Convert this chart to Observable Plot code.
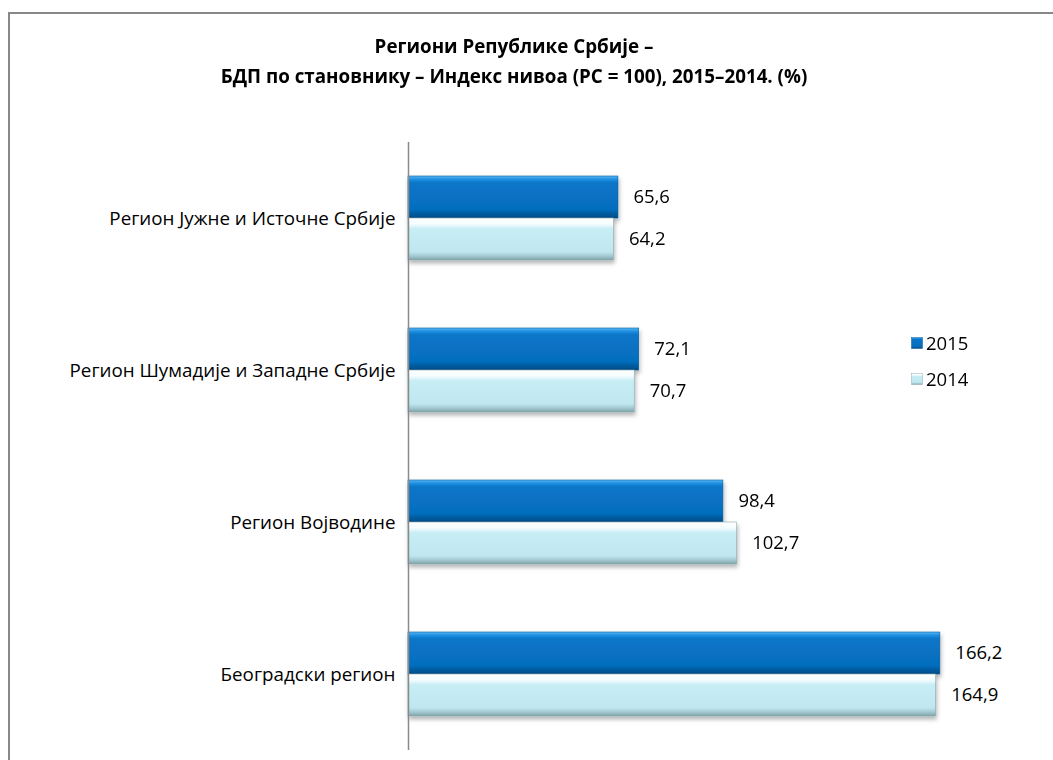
<!DOCTYPE html>
<html><head><meta charset="utf-8">
<script src="https://cdn.jsdelivr.net/npm/d3@7"></script>
<script src="https://cdn.jsdelivr.net/npm/@observablehq/plot@0.6"></script>
<style>
html,body{margin:0;padding:0;background:#fff;width:1053px;height:760px;overflow:hidden;font-family:"Open Sans", sans-serif;}
#wrap{position:relative;width:1053px;height:760px;}
#frame{position:absolute;left:8px;top:12px;width:1060px;height:760px;border-top:2px solid #888;border-left:2px solid #888;pointer-events:none;z-index:2}
#title{position:absolute;left:0;width:1028px;top:31px;text-align:center;font-weight:bold;font-size:18.8px;line-height:30px;color:#000;z-index:3}
#chart{position:absolute;left:0;top:0;z-index:1}
#legend{position:absolute;left:911px;top:330px;font-size:18.5px;z-index:3;color:#000}
#legend .it{display:flex;align-items:center;height:25px;margin-bottom:11px}
#legend svg{margin-right:3px}
</style>
</head><body>
<svg width="0" height="0" style="position:absolute">
<defs>
<linearGradient id="g2015" x1="0" y1="0" x2="0" y2="1">
<stop offset="0" stop-color="#55b8f6"/><stop offset="0.07" stop-color="#2592e4"/><stop offset="0.16" stop-color="#0875c8"/>
<stop offset="0.8" stop-color="#066dbd"/><stop offset="0.9" stop-color="#055b9f"/><stop offset="1" stop-color="#044a82"/>
</linearGradient>
<linearGradient id="g2014" x1="0" y1="0" x2="0" y2="1">
<stop offset="0" stop-color="#ffffff"/><stop offset="0.14" stop-color="#f4fdff"/><stop offset="0.26" stop-color="#c7edf5"/>
<stop offset="0.8" stop-color="#c0e7ef"/><stop offset="0.9" stop-color="#a6cbd3"/><stop offset="1" stop-color="#7fa3ab"/>
</linearGradient>
<filter id="sh" x="-5%" y="-20%" width="110%" height="160%">
<feDropShadow dx="1" dy="3" stdDeviation="2" flood-color="#000" flood-opacity="0.3"/>
</filter>
</defs>
</svg>
<div id="wrap">
<div id="frame"></div>
<div id="title">Региони Републике Србије –<br>БДП по становнику – Индекс нивоа (РС = 100), 2015–2014. (%)</div>
<div id="chart"></div>
<div id="legend">
<div class="it"><svg width="12" height="12"><rect x="0.5" y="0.5" width="11" height="11" fill="url(#g2015)" stroke="#0a5a96" stroke-width="0.5"/></svg>2015</div>
<div class="it"><svg width="12" height="12"><rect x="0.5" y="0.5" width="11" height="11" fill="url(#g2014)" stroke="#8fb0b6" stroke-width="0.5"/></svg>2014</div>
</div>
</div>
<script>
const regions = ["Регион Јужне и Источне Србије", "Регион Шумадије и Западне Србије", "Регион Војводине", "Београдски регион"];
const years = ["2015", "2014"];
const values2015 = [65.6, 72.1, 98.4, 166.2];
const values2014 = [64.2, 70.7, 102.7, 164.9];

const data = regions.flatMap((r, i) => [
  {region: r, year: "2015", value: values2015[i]},
  {region: r, year: "2014", value: values2014[i]}
]);
const fmt = v => v.toFixed(1).replace(".", ",");

const svg = Plot.plot({
  width: 1053, height: 760,
  marginLeft: 408, marginRight: 5, marginTop: 142, marginBottom: 10,
  x: {domain: [0, 200], axis: null},
  y: {domain: years, paddingInner: 0, paddingOuter: 0.77, axis: null},
  fy: {domain: regions, padding: 0, axis: "left", label: null, tickSize: 0, tickPadding: 13},
  style: {background: "transparent", fontFamily: "'Open Sans', sans-serif", fontSize: "18.8px", color: "#000", overflow: "visible"},
  marks: [
    Plot.barX(data.filter(d => d.year === "2015"), {x: "value", y: "year", fy: "region", fill: "url(#g2015)", stroke: "#0a5a96", strokeWidth: 0.6}),
    Plot.barX(data.filter(d => d.year === "2014"), {x: "value", y: "year", fy: "region", fill: "url(#g2014)", stroke: "#86a9b0", strokeWidth: 0.6}),
    Plot.ruleX([0], {stroke: "#8a8a8a", strokeWidth: 1.5}),
    Plot.text(data, {x: "value", y: "year", fy: "region", text: d => fmt(d.value), textAnchor: "start", dx: 15, fontSize: 18.5, fill: "#000"})
  ]
});
svg.querySelectorAll('g[aria-label="bar"]').forEach(g => g.setAttribute("filter", "url(#sh)"));
document.getElementById("chart").appendChild(svg);
</script>
</body></html>
